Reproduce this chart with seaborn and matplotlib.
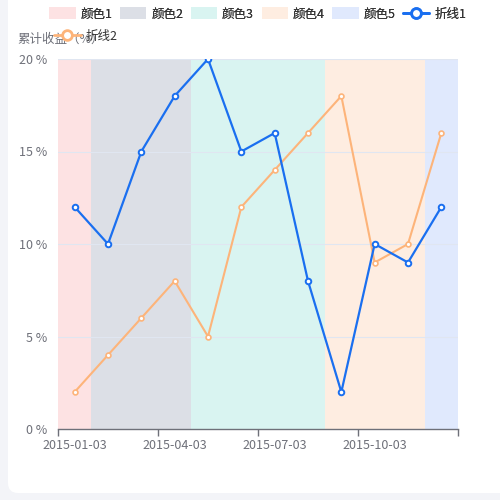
import matplotlib
matplotlib.use("Agg")
import matplotlib.pyplot as plt
import seaborn as sns
import pandas as pd
from matplotlib.patches import FancyBboxPatch, Patch
from matplotlib.lines import Line2D

# categories (months) and the two series
months = ['2015-01-03', '2015-02-03', '2015-03-03', '2015-04-03', '2015-05-03', '2015-06-03',
          '2015-07-03', '2015-08-03', '2015-09-03', '2015-10-03', '2015-11-03', '2015-12-03']
line1 = [12, 10, 15, 18, 20, 15, 16, 8, 2, 10, 9, 12]
line2 = [2, 4, 6, 8, 5, 12, 14, 16, 18, 9, 10, 16]

# background bands: how many months each one covers
band_names = ['颜色1', '颜色2', '颜色3', '颜色4', '颜色5']
band_sizes = [1, 3, 4, 3, 1]
band_colors = ['#fde2e3', '#dcdfe6', '#d9f4f1', '#feede1', '#e0e9fd']

line_names = ['折线1', '折线2']
line_colors = ['#1a6ff0', '#fdb47a']

sns.set_style('white')
plt.rcParams['font.family'] = ['Noto Sans CJK SC', 'DejaVu Sans']

fig = plt.figure(figsize=(5, 5), dpi=100)
fig.patch.set_facecolor('#f3f4f8')
card = FancyBboxPatch((0.016, 0.014), 1.1, 1.1, boxstyle='round,pad=0,rounding_size=0.02',
                      transform=fig.transFigure, facecolor='white', edgecolor='none', zorder=-5)
fig.patches.append(card)

ax = fig.add_axes([0.116, 0.142, 0.8, 0.74])
ax.set_facecolor('none')
ax.set_zorder(1)

df = pd.DataFrame({'idx': list(range(len(months))) * 2,
                   'value': line1 + line2,
                   'series': [line_names[0]] * len(months) + [line_names[1]] * len(months)})

# bands
start = -0.5
for size, col in zip(band_sizes, band_colors):
    ax.axvspan(start, start + size, color=col, lw=0, zorder=0)
    start += size

for y in [5, 10, 15, 20]:
    ax.axhline(y, color='#e0e6f1', lw=0.8, zorder=1)

sns.lineplot(data=df[df.series == line_names[1]], x='idx', y='value', color=line_colors[1],
             lw=1.5, marker='o', markersize=3.5, markerfacecolor='white',
             markeredgecolor=line_colors[1], markeredgewidth=1.2, ax=ax, zorder=3)
sns.lineplot(data=df[df.series == line_names[0]], x='idx', y='value', color=line_colors[0],
             lw=1.6, marker='o', markersize=4, markerfacecolor='white',
             markeredgecolor=line_colors[0], markeredgewidth=1.4, ax=ax, zorder=4)

ax.set_xlim(-0.5, len(months) - 0.5)
ax.set_ylim(0, 20)
ax.set_xlabel('')
ax.set_ylabel('')
ax.set_yticks([0, 5, 10, 15, 20])
ax.set_yticklabels([f'{v} %' for v in [0, 5, 10, 15, 20]])
ax.set_xticks([0, 3, 6, 9])
ax.set_xticklabels([months[i] for i in [0, 3, 6, 9]])
ax.set_xticks([-0.5, 2.5, 5.5, 8.5, 11.5], minor=True)
ax.tick_params(axis='x', which='major', length=0, pad=7, labelsize=9, labelcolor='#6e7079')
ax.tick_params(axis='x', which='minor', bottom=True, length=5, width=1, color='#6e7079')
ax.tick_params(axis='y', length=0, pad=8, labelsize=9, labelcolor='#6e7079')
for s in ['top', 'right', 'left']:
    ax.spines[s].set_visible(False)
ax.spines['bottom'].set_color('#6e7079')
ax.spines['bottom'].set_linewidth(1)

fig.text(0.034, 0.922, '累计收益（%）', fontsize=9, color='#6e7079', va='center', ha='left')

handles = [Patch(facecolor=c, edgecolor='none', label=n) for n, c in zip(band_names, band_colors)]
handles.append(Line2D([], [], color=line_colors[0], lw=2, marker='o', markersize=7,
                      markerfacecolor='white', markeredgewidth=2, label=line_names[0]))
leg1 = fig.legend(handles=handles, loc='center left', bbox_to_anchor=(0.086, 0.972), ncol=6,
                  frameon=False, fontsize=9, handlelength=2.1, handleheight=1.1,
                  handletextpad=0.4, columnspacing=0.6, borderpad=0, labelcolor='#333333')
fig.add_artist(leg1)
h2 = [Line2D([], [], color=line_colors[1], lw=2, marker='o', markersize=7,
             markerfacecolor='white', markeredgewidth=2, label=line_names[1])]
fig.legend(handles=h2, loc='center left', bbox_to_anchor=(0.096, 0.928), frameon=False,
           fontsize=9, handlelength=2.1, handletextpad=0.4, borderpad=0, labelcolor='#333333')

fig.savefig('out.png', dpi=100)
